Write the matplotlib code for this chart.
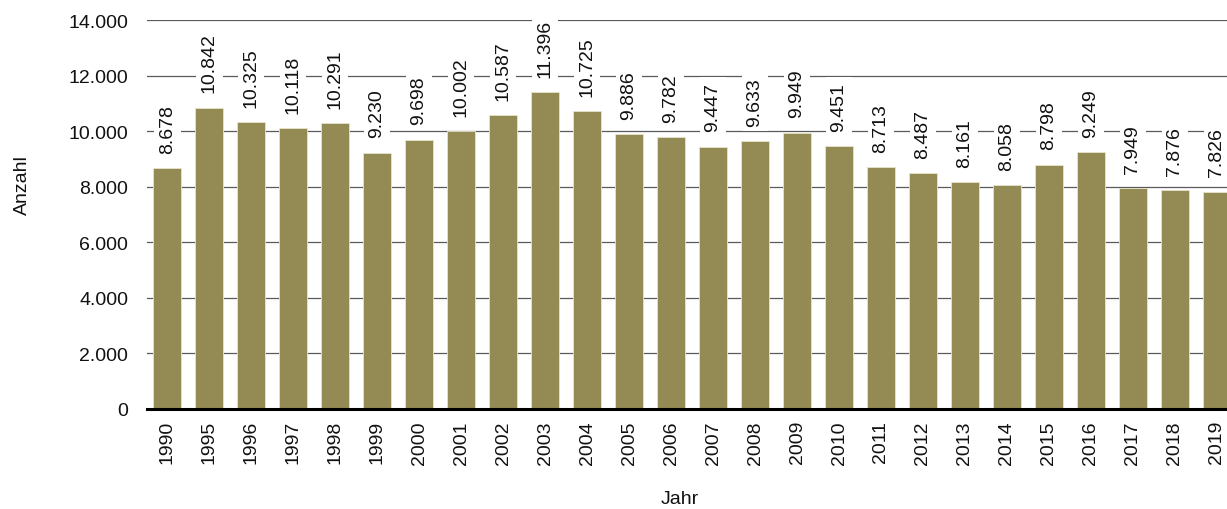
import matplotlib
matplotlib.use("Agg")
import matplotlib.pyplot as plt
from matplotlib.ticker import FuncFormatter

years = ["1990", "1995", "1996", "1997", "1998", "1999", "2000", "2001", "2002", "2003",
         "2004", "2005", "2006", "2007", "2008", "2009", "2010", "2011", "2012", "2013",
         "2014", "2015", "2016", "2017", "2018", "2019"]
values = [8678, 10842, 10325, 10118, 10291, 9230, 9698, 10002, 10587, 11396,
          10725, 9886, 9782, 9447, 9633, 9949, 9451, 8713, 8487, 8161,
          8058, 8798, 9249, 7949, 7876, 7826]
yticks = [0, 2000, 4000, 6000, 8000, 10000, 12000, 14000]

def de(v):
    return f"{int(v):,}".replace(",", ".")

plt.rcParams['font.family'] = ['Liberation Sans', 'DejaVu Sans']
FS = 14

fig = plt.figure(figsize=(12.27, 5.10), dpi=100)
ax = fig.add_axes([147/1227, 100/510, 1 - 147/1227, (410-21)/510])

x = list(range(len(years)))
ax.bar(x, values, width=0.67, color="#948a54", edgecolor="#e8e4cc", linewidth=0.6, zorder=2)

for xi, v in zip(x, values):
    ax.annotate(de(v), (xi, v), xytext=(0, 11), textcoords="offset points",
                rotation=90, ha="center", va="bottom", fontsize=FS, color="#111111",
                bbox=dict(boxstyle="square,pad=0.25", fc="white", ec="none"), zorder=4)

ax.set_ylim(0, 14000)
ax.set_xlim(-0.48, len(years) - 1 + 0.24)
ax.set_yticks(yticks)
ax.yaxis.set_major_formatter(FuncFormatter(lambda v, p: de(v)))
ax.set_xticks(x)
ax.set_xticklabels(years, rotation=90)
ax.tick_params(axis="both", length=0, labelsize=FS, colors="#111111")
ax.tick_params(axis="y", pad=13.5)
ax.tick_params(axis="x", pad=8)

for t in yticks[1:]:
    ax.axhline(t, color="#5a5a5a", lw=0.9, zorder=1)
ax.axhline(0, color="black", lw=2.2, zorder=3, clip_on=False)

for s in ax.spines.values():
    s.set_visible(False)

fig.text(22/1227, 1 - 185/510, "Anzahl", rotation=90, ha="center", va="center", fontsize=FS, color="#111111")
fig.text(680/1227, 1 - 500/510, "Jahr", ha="center", va="center", fontsize=FS, color="#111111")

fig.savefig("out.png", dpi=100)
